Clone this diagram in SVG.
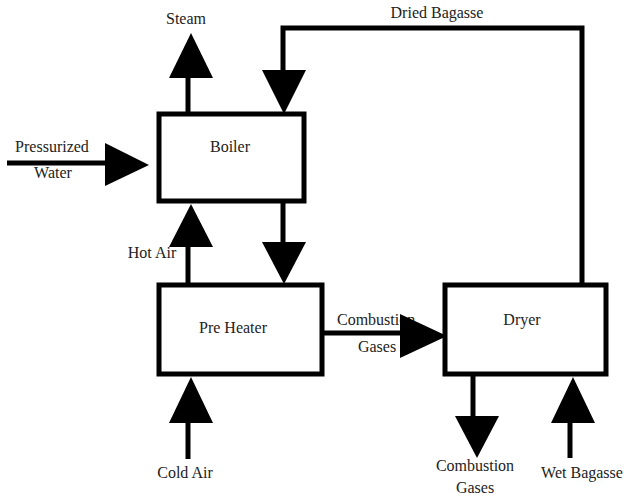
<svg xmlns="http://www.w3.org/2000/svg" width="626" height="496" viewBox="0 0 626 496">
<style>
.box{fill:#fff;stroke:#000;stroke-width:5}
.ln{fill:none;stroke:#000;stroke-width:5}
.ah{fill:#000}
.t{font-family:'Liberation Serif','Times New Roman','DejaVu Serif',serif;font-size:16px;fill:#222;text-anchor:middle}
</style>
<rect width="626" height="496" fill="#fff"/>
<g id="connectors">
  <line class="ln" x1="188" y1="113" x2="188" y2="76"/>
  <polygon class="ah" points="169,78 213,78 191,33"/>
  <polyline class="ln" points="582,284 582,28 283,28 283,72"/>
  <polygon class="ah" points="262,70 306,70 284,114"/>
  <line class="ln" x1="7" y1="163" x2="107" y2="163"/>
  <polygon class="ah" points="105,143 105,186 149,165"/>
  <line class="ln" x1="188" y1="284" x2="188" y2="245"/>
  <polygon class="ah" points="169,247 213,247 191,204"/>
  <line class="ln" x1="283" y1="201" x2="283" y2="244"/>
  <polygon class="ah" points="262,242 306,242 284,284"/>
  <line class="ln" x1="188" y1="459" x2="188" y2="421"/>
  <polygon class="ah" points="169,423 213,423 191,377"/>
  <line class="ln" x1="322" y1="333" x2="402" y2="333"/>
  <line class="ln" x1="473" y1="374" x2="473" y2="418"/>
  <polygon class="ah" points="455,416 499,416 477,458"/>
  <line class="ln" x1="570" y1="458" x2="570" y2="421"/>
  <polygon class="ah" points="551,423 595,423 573,377"/>
</g>
<g id="boiler">
  <rect class="box" x="159" y="114" width="145" height="87"/>
  <text class="t" font-family="Liberation Serif, serif" x="230" y="152">Boiler</text>
</g>
<g id="preheater">
  <rect class="box" x="159" y="285" width="163" height="89"/>
  <text class="t" font-family="Liberation Serif, serif" x="233" y="333">Pre Heater</text>
</g>
<g id="dryer">
  <rect class="box" x="445" y="285" width="161" height="89"/>
  <text class="t" font-family="Liberation Serif, serif" x="522" y="325">Dryer</text>
</g>
<g id="labels" font-family="Liberation Serif, serif">
  <text class="t" x="186" y="24">Steam</text>
  <text class="t" x="437" y="18">Dried Bagasse</text>
  <text class="t" x="52" y="152">Pressurized</text>
  <text class="t" x="53" y="178">Water</text>
  <text class="t" x="152" y="258">Hot Air</text>
  <text class="t" x="185" y="478">Cold Air</text>
  <text class="t" x="337" y="325" style="text-anchor:start">Combustion</text>
  <text class="t" x="377" y="352">Gases</text>
  <text class="t" x="475" y="471">Combustion</text>
  <text class="t" x="475" y="493">Gases</text>
  <text class="t" x="582" y="478">Wet Bagasse</text>
</g>
<g id="arrow-top">
  <polygon class="ah" points="400,314 400,358 447,336"/>
</g>
</svg>
